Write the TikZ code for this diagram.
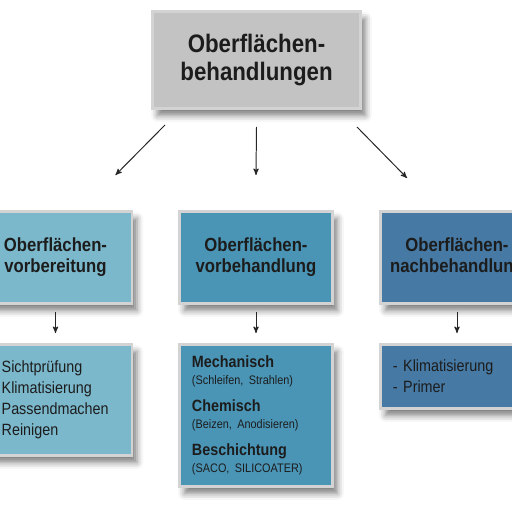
\documentclass[tikz,border=0pt]{standalone}
\usepackage{fontspec}
\setsansfont[FakeStretch=0.88]{Liberation Sans}
\usetikzlibrary{arrows,calc,shadows.blur}
\definecolor{rimgray}{HTML}{D3D3D3}
\definecolor{topgray}{HTML}{C3C3C3}
\definecolor{lightblue}{HTML}{7BB8CC}
\definecolor{midblue}{HTML}{4A95B6}
\definecolor{darkblue}{HTML}{4679A3}
\definecolor{textdark}{HTML}{1C1C1C}
\tikzset{every picture/.style={/utils/exec={\sffamily}}}
\tikzset{box/.style={draw=rimgray,line width=2.1pt,text=textdark,
    blur shadow={shadow xshift=3.5pt,shadow yshift=-5pt,shadow blur radius=4.5pt,shadow opacity=50}}}
\tikzset{head/.style={box,align=center,font=\bfseries\fontsize{13.5}{15}\selectfont,
    minimum width=3.825cm,minimum height=2.3cm}}
\tikzset{list/.style={box,align=left,text width=3.2cm,inner xsep=0.3125cm,
    font=\fontsize{11.6}{15}\selectfont}}
\tikzset{link/.style={-stealth',line width=0.7pt,draw=black!85}}

\begin{document}
\begin{tikzpicture}[x=0.025cm,y=-0.025cm]
    \clip (0,0) rectangle (512,512);
    \node [box,fill=topgray,align=center,font=\bfseries\fontsize{18}{20.5}\selectfont,
        minimum width=5.2cm,minimum height=2.425cm] at (256.5,60) (top) {Oberflächen-\\behandlungen};
    % first row
    \node [head,fill=lightblue] at (55.5,257.5) (prep) {Oberflächen-\\vorbereitung};
    \node [head,fill=midblue] at (256,257.5) (treat) {Oberflächen-\\vorbehandlung};
    \node [head,fill=darkblue] at (457,257.5) (post) {Oberflächen-\\nachbehandlung};
    % second row
    \node [list,fill=lightblue,minimum height=2.775cm] at (55.5,400) (preplist)
        {- Sichtprüfung\\- Klimatisierung\\- Passendmachen\\- Reinigen};
    \node [list,fill=midblue,minimum height=3.55cm,font=\fontsize{11.6}{12.1}\selectfont] at (256,415.5) (treatlist)
        {\textbf{Mechanisch}\\{\fontsize{8.8}{9}\selectfont (Schleifen, Strahlen)}\\[7pt]
         \textbf{Chemisch}\\{\fontsize{8.8}{9}\selectfont (Beizen, Anodisieren)}\\[7pt]
         \textbf{Beschichtung}\\{\fontsize{8.8}{9}\selectfont (SACO, SILICOATER)}\\[-4pt]};
    \node [list,fill=darkblue,minimum height=1.6cm] at (457,376.5) (postlist)
        {- Klimatisierung\\- Primer};
    % arrows
    \draw [link] ($(top.south west)+(14,15)$) -- ($(prep.north east)+(-18,-35)$);
    \draw [link] ($(top.south)+(0,17)$) -- ($(treat.north)+(0,-35)$);
    \draw [link] ($(top.south east)+(-5,17)$) -- ($(post.north west)+(28,-32)$);
    \draw [link] ($(prep.south)+(0,7)$) -- ($(preplist.north)+(0,-10)$);
    \draw [link] ($(treat.south)+(0,7)$) -- ($(treatlist.north)+(0,-10)$);
    \draw [link] ($(post.south)+(0,7)$) -- ($(postlist.north)+(0,-10)$);
\end{tikzpicture}
\end{document}
